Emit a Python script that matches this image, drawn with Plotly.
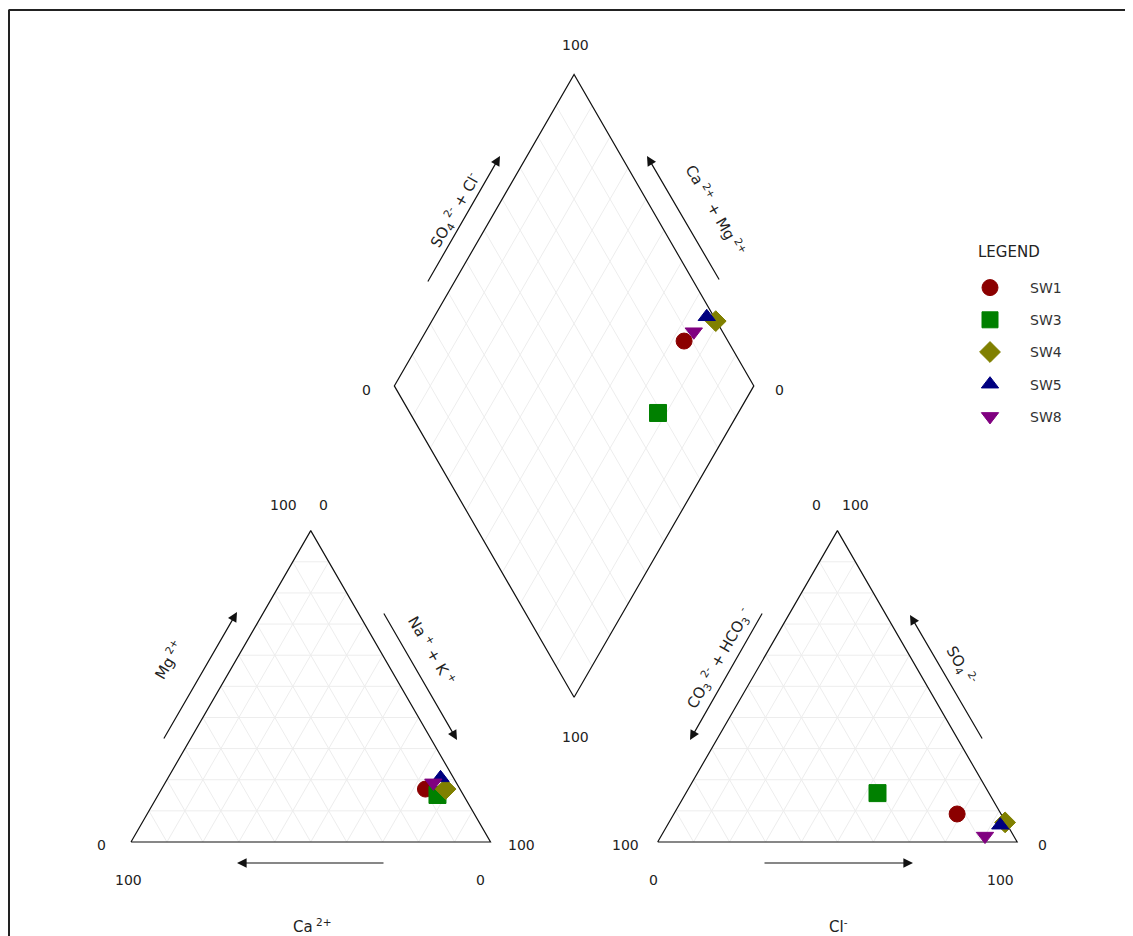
import plotly.graph_objects as go
import math

# ---------------- data (percent of meq) ----------------
samples = ["SW1", "SW3", "SW4", "SW5", "SW8"]
ca = [9.6, 7.2, 4.0, 3.6, 6.4]
mg = [17.0, 15.1, 17.0, 20.6, 19.0]
nak = [73.4, 77.7, 79.0, 75.8, 74.6]
hco3 = [12.2, 31.0, 0.2, 2.0, 8.0]
cl = [78.8, 53.3, 93.5, 92.6, 90.1]
so4 = [9.0, 15.7, 6.3, 5.4, 1.9]

colors = ["#8b0000", "#008000", "#808000", "#000080", "#800080"]
symbols = ["circle", "square", "diamond", "triangle-up", "triangle-down"]
sizes = [16, 17, 16, 15, 15]

# ---------------- geometry ----------------
PAGE = 8                   # browser body margin
W, H = 1133 - PAGE, 936 - PAGE
S = 3.595                  # px per unit
OX, OY = 131, 842          # screen pixel of left-triangle bottom-left vertex
G = 46.5                   # gap between triangles (units)
R3 = math.sqrt(3) / 2
FONT = "DejaVu Sans"

def P(xp, yp):
    """screen pixel -> data units (used for text / arrow placement only)"""
    return (xp - OX) / S, (OY - yp) / S

def cat_xy(c, m, n):
    return n + m / 2.0, m * R3

def an_xy(h, c, s):
    return 100 + G + c + s / 2.0, s * R3

def dia_xy(c, m, n, h, cl_, s):
    A = cl_ + s
    C = n
    return (100 + G + A + C) / 2.0, R3 * (100 + G + A - C)

L0, L1, LA = (0, 0), (100, 0), (50, 100 * R3)
R0, R1, RA = (100 + G, 0), (200 + G, 0), (150 + G, 100 * R3)
DB = (100 + G / 2, G * R3)
DL = (DB[0] - 50, DB[1] + 100 * R3)
DR = (DB[0] + 50, DB[1] + 100 * R3)
DT = (DB[0], DB[1] + 200 * R3)

def lerp(a, b, t):
    return a[0] + (b[0] - a[0]) * t, a[1] + (b[1] - a[1]) * t

gx, gy = [], []
def seg(a, b):
    gx.extend([a[0], b[0], None]); gy.extend([a[1], b[1], None])

for (A0, A1, AA) in [(L0, L1, LA), (R0, R1, RA)]:
    for i in range(1, 10):
        t = i / 10
        seg(lerp(A0, AA, t), lerp(A1, AA, t))
        seg(lerp(A0, A1, t), lerp(A0, AA, t))
        seg(lerp(A0, A1, t), lerp(A1, AA, 1 - t))
for i in range(1, 10):
    t = i / 10
    seg(lerp(DB, DL, t), lerp(DR, DT, t))
    seg(lerp(DB, DR, t), lerp(DL, DT, t))

ox, oy = [], []
for poly in [[L0, L1, LA, L0], [R0, R1, RA, R0], [DB, DR, DT, DL, DB]]:
    for p in poly:
        ox.append(p[0]); oy.append(p[1])
    ox.append(None); oy.append(None)

fig = go.Figure()
fig.add_trace(go.Scatter(x=gx, y=gy, mode="lines", line=dict(color="#ededed", width=1),
                         hoverinfo="skip", showlegend=False))
fig.add_trace(go.Scatter(x=ox, y=oy, mode="lines", line=dict(color="#111111", width=1.2),
                         hoverinfo="skip", showlegend=False))

for i, name in enumerate(samples):
    p1 = cat_xy(ca[i], mg[i], nak[i])
    p2 = an_xy(hco3[i], cl[i], so4[i])
    p3 = dia_xy(ca[i], mg[i], nak[i], hco3[i], cl[i], so4[i])
    fig.add_trace(go.Scatter(
        x=[p1[0], p2[0], p3[0]], y=[p1[1], p2[1], p3[1]],
        mode="markers", name=name, legendgroup=name,
        marker=dict(symbol=symbols[i], color=colors[i], size=sizes[i],
                    line=dict(color=colors[i], width=1))))

ann = []
def txt(xy, t, angle=0, size=14):
    ann.append(dict(x=xy[0], y=xy[1], text=t, showarrow=False, textangle=angle,
                    font=dict(family=FONT, size=size, color="#222"),
                    xref="x", yref="y"))

def arrow(a, b):
    ann.append(dict(x=b[0], y=b[1], ax=a[0], ay=a[1], xref="x", yref="y",
                    axref="x", ayref="y", text="", showarrow=True,
                    arrowhead=2, arrowsize=1.6, arrowwidth=1.2, arrowcolor="#111"))

# vertex labels
txt(P(575, 45), "100"); txt(P(366, 390), "0"); txt(P(779, 390), "0"); txt(P(575, 737), "100")
txt(P(283, 505), "100"); txt(P(323, 505), "0")
txt(P(101, 845), "0"); txt(P(128, 880), "100")
txt(P(521, 845), "100"); txt(P(480, 880), "0")
txt(P(816, 505), "0"); txt(P(855, 505), "100")
txt(P(625, 845), "100"); txt(P(653, 880), "0")
txt(P(1042, 845), "0"); txt(P(1000, 880), "100")

# axis titles
txt(P(454, 210), "SO<sub>4</sub><sup> 2-</sup> + Cl<sup>-</sup>", -60, 15)
txt(P(716, 210), "Ca<sup> 2+</sup> + Mg<sup> 2+</sup>", 60, 15)
txt(P(168, 660), "Mg<sup> 2+</sup>", -60, 15)
txt(P(432, 650), "Na<sup> +</sup> + K<sup> +</sup>", 60, 15)
txt(P(312, 926), "Ca<sup> 2+</sup>", 0, 15)
txt(P(718, 658), "CO<sub>3</sub><sup> 2-</sup> + HCO<sub>3</sub><sup> -</sup>", -60, 15)
txt(P(962, 665), "SO<sub>4</sub><sup> 2-</sup>", 60, 15)
txt(P(838, 926), "Cl<sup>-</sup>", 0, 15)

# legend heading
ann.append(dict(x=(976 - PAGE) / W, y=1 - (252 - PAGE) / H, xref="paper", yref="paper",
                xanchor="left", yanchor="middle", text="LEGEND", showarrow=False,
                font=dict(family=FONT, size=15, color="#222")))

# arrows
arrow(P(427, 283), P(500, 156))
arrow(P(720, 281), P(647, 156))
arrow(P(163, 740), P(237, 612))
arrow(P(383, 612), P(457, 740))
arrow(P(385, 863), P(237, 863))
arrow(P(763, 612), P(690, 740))
arrow(P(983, 740), P(910, 615))
arrow(P(763, 863), P(913, 863))

fig.update_layout(
    width=W, height=H, margin=dict(l=0, r=0, t=0, b=0),
    paper_bgcolor="white", plot_bgcolor="white",
    xaxis=dict(range=[(PAGE - OX) / S, (1133 - OX) / S], visible=False, fixedrange=True),
    yaxis=dict(range=[(OY - 936) / S, (OY - PAGE) / S], visible=False, fixedrange=True),
    annotations=ann,
    showlegend=True,
    legend=dict(x=(950 - PAGE) / W, y=1 - (272 - PAGE) / H, xanchor="left", yanchor="top",
                font=dict(family=FONT, size=14, color="#333"), itemwidth=70,
                tracegroupgap=11, traceorder="grouped", bgcolor="rgba(0,0,0,0)"),
    shapes=[
        dict(type="line", xref="paper", yref="paper", x0=0.5 / W, x1=1, y0=1 - 2 / H, y1=1 - 2 / H,
             line=dict(color="#222", width=2)),
        dict(type="line", xref="paper", yref="paper", x0=1 / W, x1=1 / W, y0=0, y1=1 - 2 / H,
             line=dict(color="#222", width=2)),
    ],
)

fig.write_html("out.html")
